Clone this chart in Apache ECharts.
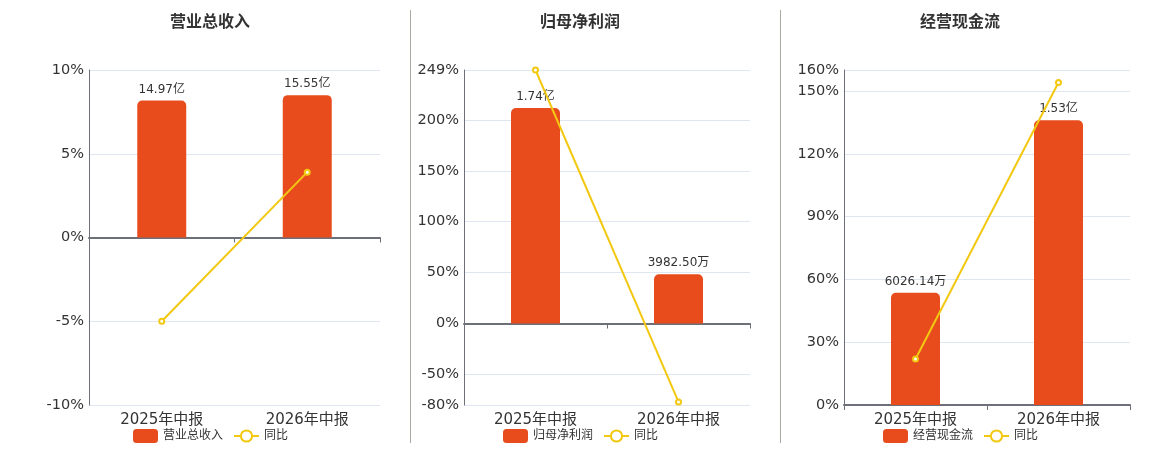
<!DOCTYPE html>
<html>
<head>
<meta charset="utf-8">
<script src="https://cdn.jsdelivr.net/npm/echarts@6/dist/echarts.min.js"></script>
<style>
  html, body { margin: 0; padding: 0; background: #fff; }
  #main { width: 1160px; height: 450px; }
</style>
</head>
<body>
<div id="main"></div>
<script>
// 报告期
const periods = ["2025年中报", "2026年中报"];

// 营业总收入 (亿)
const revenue = [14.97, 15.55];
const revenueLabels = ["14.97亿", "15.55亿"];
const revenueYoy = [-5.0, 3.9];

// 归母净利润 (亿)
const profit = [1.74, 0.398250];
const profitLabels = ["1.74亿", "3982.50万"];
const profitYoy = [249, -77];

// 经营现金流 (亿)
const cash = [0.602614, 1.53];
const cashLabels = ["6026.14万", "1.53亿"];
const cashYoy = [22, 154];

// 同比轴范围
const revenueRange = [-10, 10];
const profitRange = [-80, 249];
const cashRange = [0, 160];

const panelTitles = ["营业总收入", "归母净利润", "经营现金流"];

const BAR = "#E84C1D";
const LINE = "#F2C811";
const FONT = "DejaVu Sans, Noto Sans CJK SC, sans-serif";

const panels = [
  { name: panelTitles[0], bars: revenue, labels: revenueLabels, yoy: revenueYoy, range: revenueRange, interval: 5,
    left: 89, width: 291, titleX: 210, legendX: 128 },
  { name: panelTitles[1], bars: profit, labels: profitLabels, yoy: profitYoy, range: profitRange,
    left: 464, width: 286, titleX: 580, legendX: 498 },
  { name: panelTitles[2], bars: cash, labels: cashLabels, yoy: cashYoy, range: cashRange,
    left: 844, width: 286, titleX: 960, legendX: 878 }
];

let option = {
  backgroundColor: "#fff",
  textStyle: { fontFamily: FONT },
  animation: false,
  legend: [],
  grid: [],
  xAxis: [],
  yAxis: [],
  series: [],
  graphic: [
    { type: "line", shape: { x1: 410.5, y1: 10, x2: 410.5, y2: 443 }, style: { stroke: "#aaa89f", lineWidth: 1 } },
    { type: "line", shape: { x1: 780.5, y1: 10, x2: 780.5, y2: 443 }, style: { stroke: "#aaa89f", lineWidth: 1 } }
  ]
};

panels.forEach(function (p, i) {
  // 柱子用隐藏轴，零点与同比轴对齐
  let barMax = Math.max.apply(null, p.bars) / 0.85;
  let barMin = barMax * p.range[0] / p.range[1];

  option.graphic.push({
    type: "text",
    left: p.titleX - 40,
    top: 15,
    style: {
      text: p.name,
      fontSize: 16,
      fontWeight: "bold",
      fill: "#333",
      fontFamily: FONT
    }
  });

  option.legend.push({
    left: p.legendX,
    top: 424,
    itemWidth: 25,
    itemHeight: 14,
    itemGap: 10,
    textStyle: { fontSize: 12, color: "#333", fontFamily: FONT },
    data: [p.name, "同比" + i],
    formatter: function (n) { return n.indexOf("同比") === 0 ? "同比" : n; }
  });

  option.grid.push({ left: p.left, width: p.width, top: 70, height: 335 });

  // 标签轴
  option.xAxis.push({
    type: "category",
    gridIndex: i,
    data: periods,
    position: "bottom",
    axisLine: { show: false, onZero: false },
    axisTick: { show: false },
    axisLabel: { fontSize: 15, color: "#333", margin: 8, fontFamily: FONT }
  });
  // 零线
  option.xAxis.push({
    type: "category",
    gridIndex: i,
    data: periods,
    position: "bottom",
    axisLine: { show: true, onZero: true, onZeroAxisIndex: i * 2, lineStyle: { color: "#6E7079", width: 2 } },
    axisTick: { show: true, length: 5, lineStyle: { color: "#6E7079" } },
    axisLabel: { show: false }
  });

  let yLeft = {
    type: "value",
    gridIndex: i,
    min: p.range[0],
    max: p.range[1],
    axisLine: { show: true, lineStyle: { color: "#6E7079" } },
    axisTick: { show: false },
    axisLabel: { fontSize: 14.5, color: "#333", margin: 5, formatter: "{value}%", fontFamily: FONT },
    splitLine: { show: true, lineStyle: { color: "#E0E6F1" } }
  };
  if (p.interval) yLeft.interval = p.interval;
  option.yAxis.push(yLeft);
  option.yAxis.push({
    type: "value",
    gridIndex: i,
    min: barMin,
    max: barMax,
    show: false,
    splitLine: { show: false }
  });

  option.series.push({
    name: p.name,
    type: "bar",
    xAxisIndex: i * 2,
    yAxisIndex: i * 2 + 1,
    data: p.bars,
    barWidth: 49,
    itemStyle: { color: BAR, borderRadius: [5, 5, 0, 0] },
    label: {
      show: true,
      position: "top",
      distance: 5,
      fontSize: 12,
      color: "#333",
      fontFamily: FONT,
      formatter: function (d) { return p.labels[d.dataIndex]; }
    },
    z: 2
  });
  option.series.push({
    name: "同比" + i,
    type: "line",
    xAxisIndex: i * 2,
    yAxisIndex: i * 2,
    data: p.yoy,
    symbol: "emptyCircle",
    symbolSize: 5,
    color: LINE,
    lineStyle: { color: LINE, width: 2 },
    itemStyle: { color: LINE, borderWidth: 2 },
    z: 3
  });
});

let chart = echarts.init(document.getElementById("main"));
chart.setOption(option);
</script>
</body>
</html>
